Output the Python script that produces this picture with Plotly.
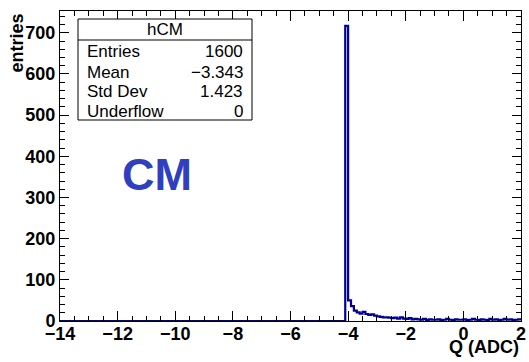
import plotly.graph_objects as go

# ---- data ----
x_min, x_max = -14.0, 2.0
bin_width = 0.1
first_edge = -4.1           # first non-empty bin lower edge
counts = [
    717,
    50, 36, 25, 21, 18, 22, 17, 15, 16, 13,
    11, 10, 9, 9, 8, 7, 8, 6, 9, 6,
    5, 7, 4, 5, 4, 3, 5, 2, 4, 3,
    3, 4, 2, 3, 5, 3, 2, 4, 3, 3,
    4, 2, 3, 5, 3, 2, 4, 3, 2, 5,
    3, 4, 2, 3, 5, 3, 4, 2, 3, 4,
]
y_max = 753
stats_title = "hCM"
stats_labels = ["Entries", "Mean", "Std Dev", "Underflow"]
stats_values = ["1600", "\u22123.343", "1.423", "0"]
x_title = "Q (ADC)"
y_title = "entries"
label_text = "CM"

# ---- geometry ----
W, H = 529, 362
L, R, T, B = 60, 521, 11, 321

def px(xp):
    return (xp - L) / (R - L)

def py(yp):
    return (B - yp) / (B - T)

edges = [round(first_edge + i * bin_width, 4) for i in range(len(counts) + 1)]
xs = [x_min] + edges
ys = [0] + counts + [counts[-1]]

fig = go.Figure()
fig.add_trace(go.Scatter(
    x=xs, y=ys, mode="lines", line=dict(color="#000099", width=2.2, shape="hv"),
    hoverinfo="skip", showlegend=False, cliponaxis=True,
))

FAM = "Liberation Sans, Arial, sans-serif"
tickfont = dict(family=FAM, size=18, color="black", weight="bold")

fig.update_layout(
    width=W, height=H,
    margin=dict(l=L, r=W - R, t=T, b=H - B, autoexpand=False),
    paper_bgcolor="white", plot_bgcolor="white",
    showlegend=False,
    xaxis=dict(
        range=[x_min, x_max], tickmode="linear", tick0=-14, dtick=2,
        ticks="inside", ticklen=10, tickwidth=1, tickcolor="black",
        mirror="allticks", showline=True, linecolor="black", linewidth=1,
        showgrid=False, zeroline=False, tickfont=tickfont, automargin=False,
        ticklabelstandoff=-4,
        minor=dict(ticks="inside", ticklen=5, dtick=0.5, tickcolor="black", showgrid=False),
    ),
    yaxis=dict(
        range=[0, y_max], tickmode="linear", tick0=0, dtick=100,
        ticks="inside", ticklen=9, tickwidth=1, tickcolor="black",
        mirror="allticks", showline=True, linecolor="black", linewidth=1,
        showgrid=False, zeroline=False, tickfont=tickfont, automargin=False,
        minor=dict(ticks="inside", ticklen=5, dtick=20, tickcolor="black", showgrid=False),
    ),
)

# axis titles
fig.add_annotation(text=x_title, xref="paper", yref="paper", x=px(521), y=py(347),
                   xanchor="right", yanchor="middle", showarrow=False,
                   font=dict(family=FAM, size=18, color="black", weight="bold"))
fig.add_annotation(text=y_title, xref="paper", yref="paper", x=px(17), y=py(12),
                   xanchor="center", yanchor="top", textangle=-90, showarrow=False,
                   font=dict(family=FAM, size=18, color="black", weight="bold"))

# big label
fig.add_annotation(text=label_text, xref="paper", yref="paper", x=px(157), y=py(174),
                   xanchor="center", yanchor="middle", showarrow=False,
                   font=dict(family=FAM, size=45, color="#2f3fbf", weight="bold"))

# stats box
bx0, bx1, by0, by1 = 78, 252, 19, 120
fig.add_shape(type="rect", xref="paper", yref="paper",
              x0=px(bx0), x1=px(bx1), y0=py(by1), y1=py(by0),
              line=dict(color="black", width=1), fillcolor="white")
fig.add_shape(type="line", xref="paper", yref="paper",
              x0=px(bx0), x1=px(bx1), y0=py(40), y1=py(40),
              line=dict(color="black", width=1))
sfont = dict(family=FAM, size=17, color="black")
fig.add_annotation(text=stats_title, xref="paper", yref="paper", x=px((bx0 + bx1) / 2), y=py(30),
                   xanchor="center", yanchor="middle", showarrow=False, font=sfont)
row_y = [52, 72, 92, 111]
for lab, val, yy in zip(stats_labels, stats_values, row_y):
    fig.add_annotation(text=lab, xref="paper", yref="paper", x=px(85), y=py(yy),
                       xanchor="left", yanchor="middle", showarrow=False, font=sfont)
    fig.add_annotation(text=val, xref="paper", yref="paper", x=px(245), y=py(yy),
                       xanchor="right", yanchor="middle", showarrow=False, font=sfont)

fig.write_html("out.html", config={"displayModeBar": False},
               post_script="document.body.style.margin='0';document.body.style.overflow='hidden';")
